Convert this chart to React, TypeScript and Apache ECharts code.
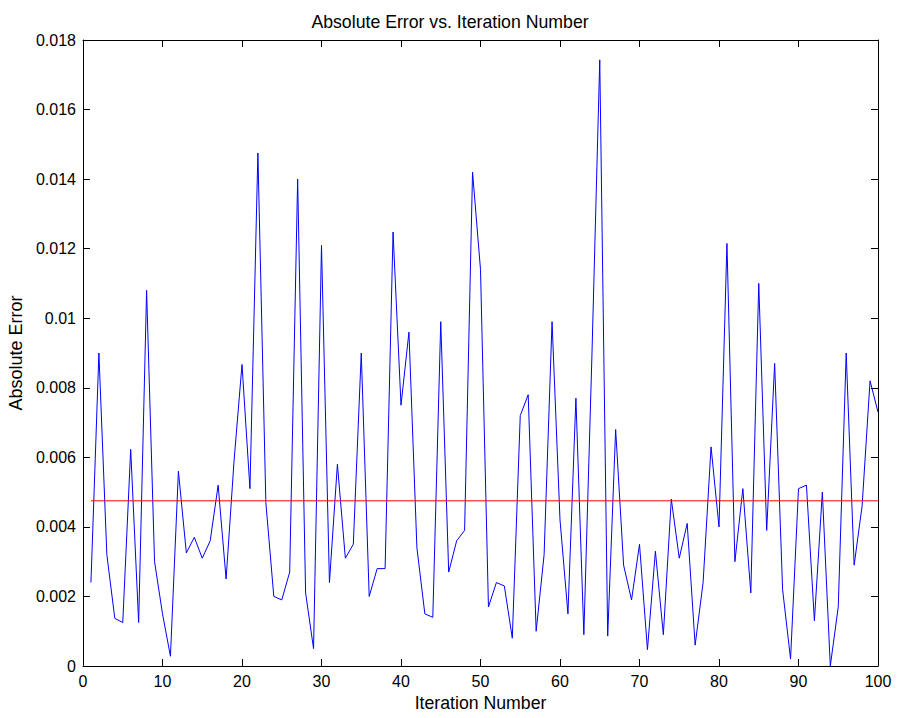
import React, { useEffect, useRef } from "react";
import * as echarts from "echarts";

const iterations: number[] = Array.from({ length: 100 }, (_, i) => i + 1);

const absoluteError: number[] = [
  0.0024, 0.009, 0.0032, 0.00137, 0.00125, 0.00623, 0.00125, 0.0108, 0.003, 0.0015,
  0.00028, 0.0056, 0.00325, 0.0037, 0.0031, 0.0036, 0.0052, 0.0025, 0.0059, 0.00867,
  0.0051, 0.01475, 0.0047, 0.002, 0.0019, 0.0027, 0.014, 0.0021, 0.0005, 0.0121,
  0.0024, 0.0058, 0.0031, 0.0035, 0.009, 0.002, 0.0028, 0.0028, 0.01248, 0.0075,
  0.0096, 0.0034, 0.0015, 0.0014, 0.0099, 0.0027, 0.0036, 0.0039, 0.0142, 0.0114,
  0.0017, 0.0024, 0.0023, 0.0008, 0.0072, 0.0078, 0.001, 0.0032, 0.0099, 0.0042,
  0.0015, 0.0077, 0.0009, 0.0088, 0.01743, 0.00086, 0.0068, 0.0029, 0.0019, 0.0035,
  0.00047, 0.0033, 0.0009, 0.0048, 0.0031, 0.0041, 0.0006, 0.0024, 0.0063, 0.004,
  0.01215, 0.003, 0.0051, 0.0021, 0.011, 0.0039, 0.0087, 0.0022, 0.0002, 0.0051,
  0.0052, 0.0013, 0.005, 0.0, 0.0017, 0.009, 0.0029, 0.0046, 0.0082, 0.0073,
];

const meanError = 0.00475;

const titleText = "Absolute Error vs. Iteration Number";
const xName = "Iteration Number";
const yName = "Absolute Error";

export default function App() {
  const ref = useRef<HTMLDivElement>(null);

  useEffect(() => {
    document.body.style.margin = "0";
    if (!ref.current) return;
    const chart = echarts.init(ref.current, undefined, { renderer: "svg" });
    const font = "'Liberation Sans', Arial, Helvetica, sans-serif";
    const tickStyle = { show: true, inside: true, length: 7, lineStyle: { color: "#000", width: 1 } };
    const axisLine = { show: true, onZero: false, lineStyle: { color: "#000", width: 1 } };
    const yFmt = (v: number) => String(+v.toFixed(3));
    chart.setOption({
      animation: false,
      backgroundColor: "#fff",
      title: {
        text: titleText,
        left: "center",
        top: 8,
        textStyle: { fontFamily: font, fontSize: 17.7, fontWeight: "normal", color: "#000" },
      },
      grid: { left: 83, right: 22, top: 40, bottom: 52, containLabel: false, outerBoundsMode: "none" },
      xAxis: [
        {
          type: "value",
          min: 0,
          max: 100,
          interval: 10,
          position: "bottom",
          name: xName,
          nameLocation: "middle",
          nameGap: 27,
          nameTextStyle: { fontFamily: font, fontSize: 17.7, color: "#000" },
          axisLine,
          axisTick: tickStyle,
          axisLabel: { fontFamily: font, fontSize: 16, color: "#000", margin: 7 },
          splitLine: { show: false },
        },
        {
          type: "value",
          min: 0,
          max: 100,
          interval: 10,
          position: "top",
          axisLine,
          axisTick: tickStyle,
          axisLabel: { show: false },
          splitLine: { show: false },
        },
      ],
      yAxis: [
        {
          type: "value",
          min: 0,
          max: 0.018,
          interval: 0.002,
          position: "left",
          name: yName,
          nameLocation: "middle",
          nameGap: 57,
          nameTextStyle: { fontFamily: font, fontSize: 18, color: "#000" },
          axisLine,
          axisTick: tickStyle,
          axisLabel: { fontFamily: font, fontSize: 16, color: "#000", margin: 7, formatter: yFmt },
          splitLine: { show: false },
        },
        {
          type: "value",
          min: 0,
          max: 0.018,
          interval: 0.002,
          position: "right",
          axisLine,
          axisTick: tickStyle,
          axisLabel: { show: false },
          splitLine: { show: false },
        },
      ],
      series: [
        {
          type: "line",
          data: iterations.map((x, i) => [x, absoluteError[i]]),
          showSymbol: false,
          symbol: "none",
          lineStyle: { color: "#0000ff", width: 1 },
          z: 2,
        },
        {
          type: "line",
          data: [
            [iterations[0], meanError],
            [iterations[iterations.length - 1], meanError],
          ],
          showSymbol: false,
          symbol: "none",
          lineStyle: { color: "#ff0000", width: 1 },
          z: 3,
        },
      ],
    });
    return () => chart.dispose();
  }, []);

  return <div ref={ref} style={{ width: 900, height: 718 }} />;
}
